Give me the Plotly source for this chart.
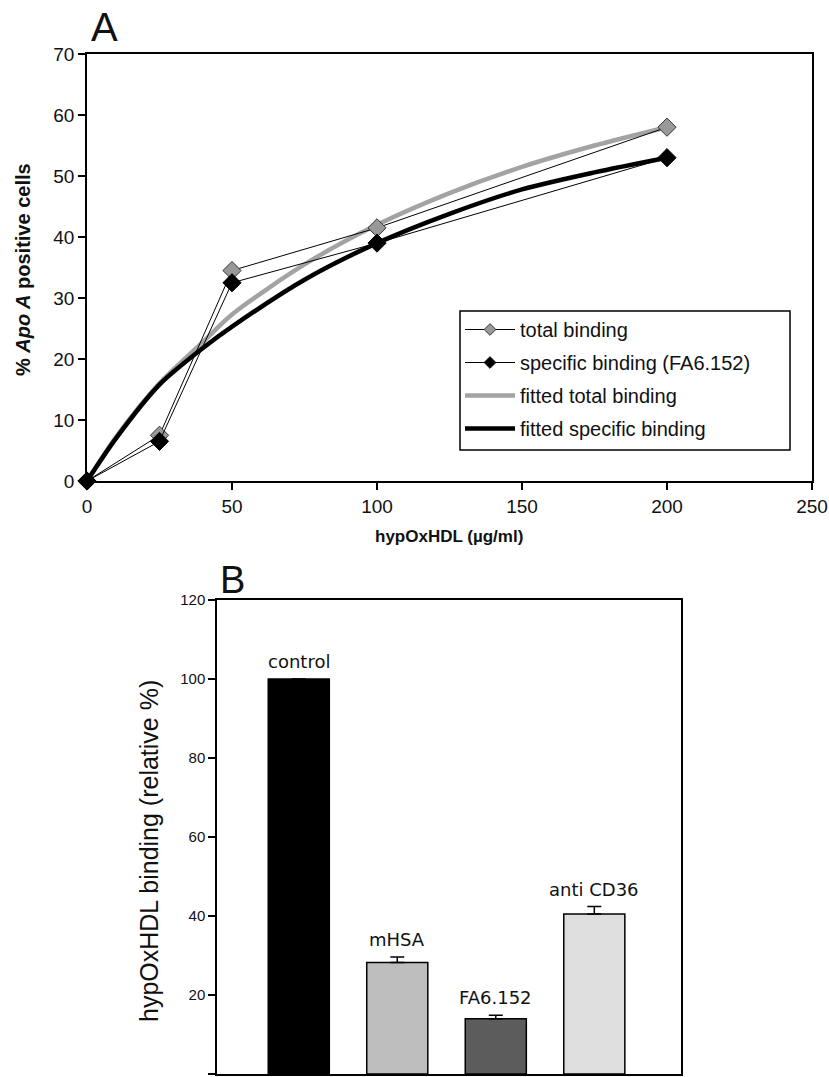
import plotly.graph_objects as go

# Panel A: hypOxHDL binding curves
conc = [0, 25, 50, 100, 200]
total_binding = [0, 7.5, 34.5, 41.5, 58.0]
specific_binding = [0, 6.5, 32.5, 39.0, 53.0]

fit_conc = [0, 10, 25, 40, 50, 75, 100, 125, 150, 175, 200]
fit_total = [0, 7.2, 16.0, 22.8, 27.3, 35.5, 42.0, 47.2, 51.5, 55.0, 58.0]
fit_specific = [0, 7.0, 15.8, 21.8, 25.3, 33.0, 39.0, 43.8, 47.8, 50.6, 53.0]

# Panel B: relative binding by treatment
treatments = ["control", "mHSA", "FA6.152", "anti CD36"]
relative_binding = [100.0, 28.2, 14.0, 40.5]
binding_err = [0.0, 1.4, 0.9, 1.9]
bar_colors = ["#000000", "#bebebe", "#5c5c5c", "#dedede"]

W, H = 829, 1077


def px_x(p):
    return p / W


def px_y(p):
    return 1 - p / H


FONT = "Arial, Liberation Sans, sans-serif"

fig = go.Figure()

# fitted curves underneath the measured points
fig.add_trace(go.Scatter(
    x=fit_conc, y=fit_total, mode="lines", name="fitted total binding",
    line=dict(color="#a3a3a3", width=4.5, shape="spline", smoothing=0.8),
    legendgroup="c", legendrank=3, xaxis="x", yaxis="y", cliponaxis=False))
fig.add_trace(go.Scatter(
    x=fit_conc, y=fit_specific, mode="lines", name="fitted specific binding",
    line=dict(color="#000000", width=4.5, shape="spline", smoothing=0.8),
    legendgroup="d", legendrank=4, xaxis="x", yaxis="y", cliponaxis=False))

# measured points (legend entries drawn with smaller markers below)
fig.add_trace(go.Scatter(
    x=conc, y=total_binding, mode="lines+markers", name="total binding",
    line=dict(color="#000000", width=1),
    marker=dict(symbol="diamond", size=14, color="#999999",
                line=dict(color="#333333", width=1)),
    showlegend=False, xaxis="x", yaxis="y", cliponaxis=False))
fig.add_trace(go.Scatter(
    x=conc, y=specific_binding, mode="lines+markers",
    name="specific binding (FA6.152)",
    line=dict(color="#000000", width=1),
    marker=dict(symbol="diamond", size=14, color="#000000",
                line=dict(color="#000000", width=1)),
    showlegend=False, xaxis="x", yaxis="y", cliponaxis=False))
fig.add_trace(go.Scatter(
    x=[None], y=[None], mode="lines+markers", name="total binding",
    line=dict(color="#000000", width=1),
    marker=dict(symbol="diamond", size=9, color="#999999",
                line=dict(color="#333333", width=1)),
    legendgroup="a", legendrank=1, xaxis="x", yaxis="y"))
fig.add_trace(go.Scatter(
    x=[None], y=[None], mode="lines+markers",
    name="specific binding (FA6.152)",
    line=dict(color="#000000", width=1),
    marker=dict(symbol="diamond", size=9, color="#000000",
                line=dict(color="#000000", width=1)),
    legendgroup="b", legendrank=2, xaxis="x", yaxis="y"))

fig.add_trace(go.Bar(
    x=list(range(len(treatments))), y=relative_binding, width=0.62,
    marker=dict(color=bar_colors, line=dict(color="#000000", width=1.5)),
    error_y=dict(type="data", symmetric=False, array=binding_err,
                 arrayminus=[0] * len(binding_err), color="#000000",
                 thickness=1.5, width=7),
    showlegend=False, xaxis="x2", yaxis="y2"))

annotations = []
for i, (lab, v, e) in enumerate(zip(treatments, relative_binding, binding_err)):
    annotations.append(dict(
        x=i, y=v + e, xref="x2", yref="y2", text=lab, showarrow=False,
        xanchor="center", yanchor="bottom", yshift=5,
        font=dict(family="DejaVu Sans, sans-serif", size=18, color="#111111")))


def label(x, y, text, size, angle=0, family=FONT):
    return dict(x=px_x(x), y=px_y(y), xref="paper", yref="paper", text=text,
                showarrow=False, xanchor="center", yanchor="middle",
                textangle=angle, font=dict(family=family, size=size,
                                           color="#111111"))


annotations += [
    label(104, 27, "A", 40),
    label(232, 580, "B", 38),
    label(449, 536, "<b>hypOxHDL (µg/ml)</b>", 17),
    label(23, 270, "<b>% <i>Apo A</i> positive cells</b>", 20, -90),
    label(149, 851, "hypOxHDL binding (relative %)", 25, -90),
]

axis_common = dict(showgrid=False, zeroline=False, showline=True,
                   linecolor="#000000", linewidth=1.5, mirror=True)

# legend frame
shapes = [dict(type="rect", xref="paper", yref="paper",
               x0=px_x(460), x1=px_x(790), y0=px_y(450), y1=px_y(311),
               line=dict(color="#000000", width=1.5), fillcolor="white",
               layer="below")]

fig.update_layout(
    width=W, height=H,
    margin=dict(l=0, r=0, t=0, b=0),
    paper_bgcolor="white", plot_bgcolor="white",
    font=dict(family=FONT, color="#111111"),
    xaxis=dict(domain=[px_x(87), px_x(812)], range=[0, 250], dtick=50,
               ticks="outside", ticklen=7, tickwidth=1.5, tickcolor="#000000",
               tickfont=dict(size=19), anchor="y", automargin=False,
               **axis_common),
    yaxis=dict(domain=[px_y(481), px_y(54)], range=[0, 70], dtick=10,
               ticks="outside", ticklen=7, tickwidth=1.5, tickcolor="#000000",
               tickfont=dict(size=19), anchor="x", automargin=False,
               **axis_common),
    xaxis2=dict(domain=[px_x(217), px_x(681)], range=[-0.83, 3.88],
                showticklabels=False, ticks="", anchor="y2",
                automargin=False, **axis_common),
    yaxis2=dict(domain=[px_y(1074), px_y(600)], range=[0, 120], dtick=20,
                ticks="outside", ticklen=7, tickwidth=1.5,
                tickcolor="#000000", tickfont=dict(size=15), anchor="x2",
                automargin=False, **axis_common),
    legend=dict(x=px_x(460), y=px_y(310), xanchor="left", yanchor="top",
                borderwidth=0, bgcolor="rgba(0,0,0,0)",
                font=dict(family=FONT, size=20, color="#111111"),
                traceorder="grouped", tracegroupgap=4, itemwidth=50),
    shapes=shapes,
    annotations=annotations,
    showlegend=True,
)

fig.write_html("out.html")
